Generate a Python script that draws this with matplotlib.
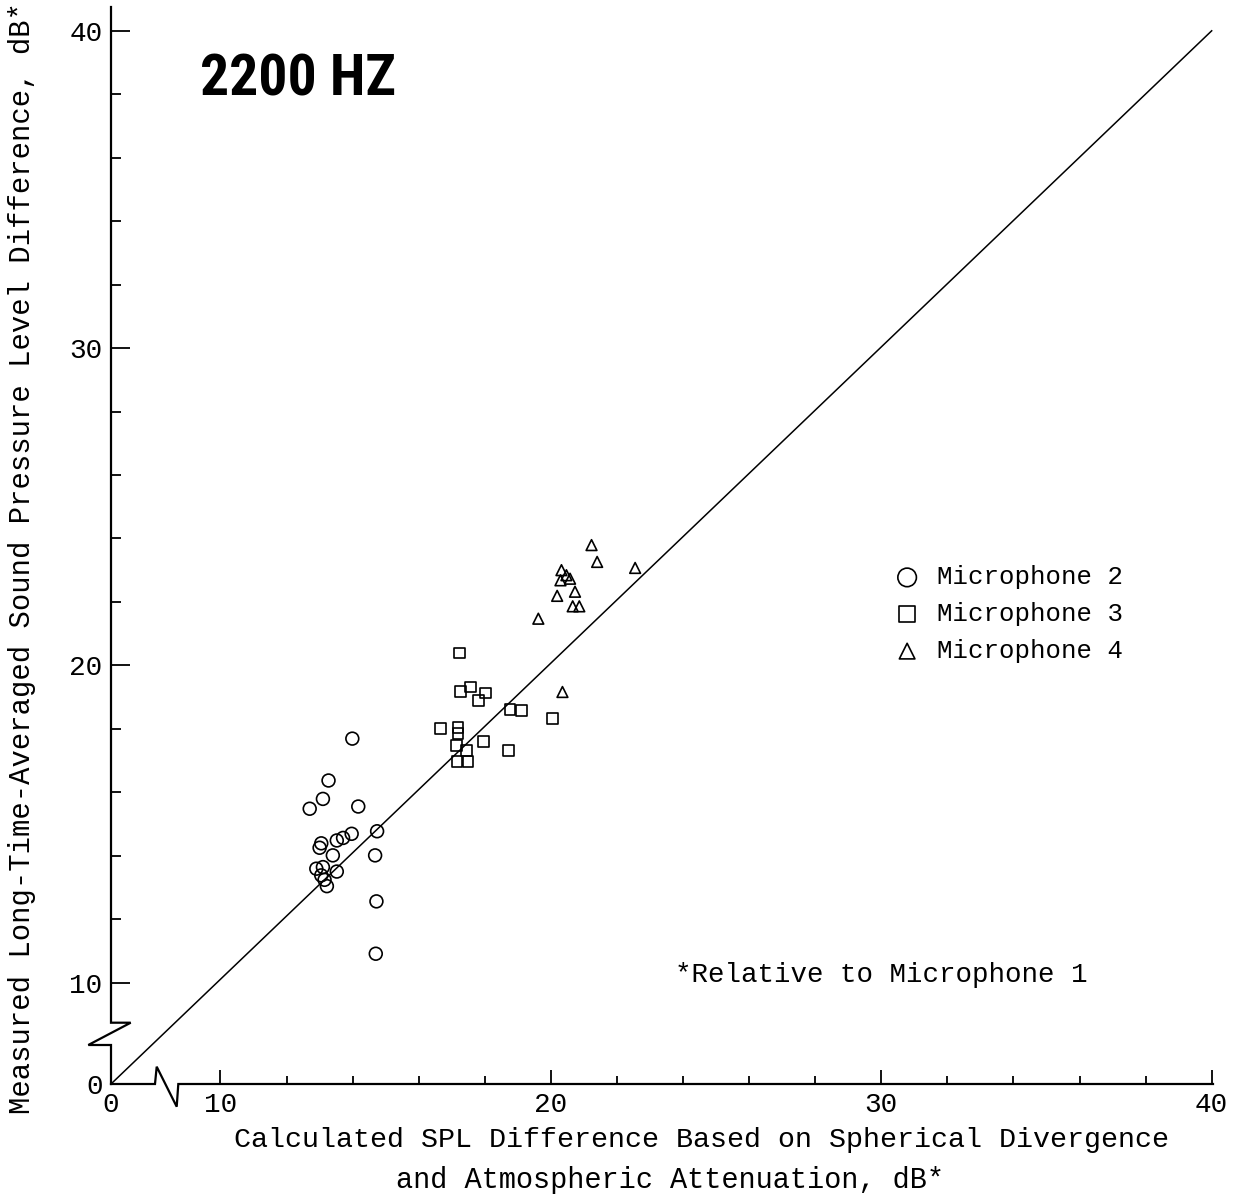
import numpy as np
import matplotlib
matplotlib.use("Agg")
import matplotlib.pyplot as plt

plt.rcParams['font.family'] = ['Liberation Mono', 'DejaVu Sans Mono']

# ---- data (dB, relative to microphone 1) ----
mic2_calc = [13.99, 13.27, 13.10, 12.70, 14.17, 14.74, 13.05, 13.00, 13.52, 13.71, 13.97,
             13.40, 14.68, 12.90, 13.10, 13.52, 13.05, 13.15, 13.22, 14.72, 14.70]
mic2_meas = [17.69, 16.37, 15.79, 15.48, 15.55, 14.77, 14.39, 14.25, 14.48, 14.56, 14.69,
             14.01, 14.01, 13.59, 13.64, 13.50, 13.38, 13.24, 13.04, 12.56, 10.91]

mic3_calc = [17.24, 17.26, 17.56, 18.03, 17.80, 18.76, 19.11, 20.05, 16.66, 17.19, 17.19,
             17.14, 17.44, 17.95, 18.71, 17.16, 17.49]
mic3_meas = [20.39, 19.18, 19.32, 19.13, 18.90, 18.60, 18.58, 18.32, 18.00, 18.05, 17.84,
             17.48, 17.32, 17.60, 17.32, 16.98, 16.98]

mic4_calc = [21.23, 21.40, 22.55, 20.32, 20.47, 20.58, 20.29, 20.19, 20.73, 20.66, 20.86,
             19.62, 20.35]
mic4_meas = [23.79, 23.26, 23.07, 23.00, 22.84, 22.73, 22.68, 22.19, 22.32, 21.86, 21.86,
             21.47, 19.16]

line_ends = [0, 40]
x_ticks = [0, 10, 20, 30, 40]
y_ticks = [0, 10, 20, 30, 40]
minor_ticks = list(range(12, 40, 2))
labels = ['Microphone 2', 'Microphone 3', 'Microphone 4']

# broken axes: 0..10 squeezed
KX = 0.3314
KY = 0.3196


def make_scale(k):
    def fwd(v):
        v = np.asarray(v, dtype=float)
        return np.where(v >= 10, v, 10 - (10 - v) * k)

    def inv(u):
        u = np.asarray(u, dtype=float)
        return np.where(u >= 10, u, 10 - (10 - u) / k)
    return fwd, inv


W, H = 1237, 1197
fig = plt.figure(figsize=(W / 100, H / 100), dpi=100)
ox, oy = 111, 1084
aw, ah = 1102, 1077
ax = fig.add_axes([ox / W, 1 - oy / H, aw / W, ah / H])
ax.set_xscale('function', functions=make_scale(KX))
ax.set_yscale('function', functions=make_scale(KY))
ax.set_xlim(0, 40.04)
ax.set_ylim(0, 40.75)

for s in ax.spines.values():
    s.set_visible(False)

# axis lines with break marks (pixel offsets from origin)
bx = np.array([0, 44, 45.7, 65.7, 67.3, aw])
by = np.array([0, 0, 17.3, -22.7, 0, 0])
ax.plot(bx / aw, by / ah, transform=ax.transAxes, color='k', lw=1.6, clip_on=False,
        solid_joinstyle='miter')
lx = np.array([0, 0, -22.7, 19.7, 0, 0])
ly = np.array([0, 39, 39, 61.3, 61.3, ah])
ax.plot(lx / aw, ly / ah, transform=ax.transAxes, color='k', lw=1.6, clip_on=False,
        solid_joinstyle='miter')

ax.plot(line_ends, line_ends, color='k', lw=1.1)

mk = dict(facecolors='none', edgecolors='k', linewidths=1.2, zorder=3)
h2 = ax.scatter(mic2_calc, mic2_meas, marker='o', s=85, **mk)
h3 = ax.scatter(mic3_calc, mic3_meas, marker='s', s=60, **mk)
h4 = ax.scatter(mic4_calc, mic4_meas, marker='^', s=60, **mk)

ax.set_xticks(x_ticks)
ax.set_yticks(y_ticks)
ax.set_xticks(minor_ticks, minor=True)
ax.set_yticks(minor_ticks, minor=True)
ax.set_xticklabels([str(t) for t in x_ticks])
ax.set_yticklabels([str(t) for t in y_ticks])
ax.tick_params(axis='x', which='major', direction='in', length=10, width=1.3, pad=6,
               labelsize=20)
ax.tick_params(axis='x', which='minor', direction='in', length=6, width=1.3)
ax.tick_params(axis='y', which='major', direction='in', length=14, width=1.3, pad=6,
               labelsize=20)
ax.tick_params(axis='y', which='minor', direction='in', length=7.5, width=1.3)
ax.xaxis.get_major_ticks()[0].tick1line.set_visible(False)
ax.yaxis.get_major_ticks()[0].tick1line.set_visible(False)

fig.text(702 / W, 1 - 1140 / H, 'Calculated SPL Difference Based on Spherical Divergence',
         ha='center', va='center', fontsize=20.4)
fig.text(670 / W, 1 - 1180 / H, 'and Atmospheric Attenuation, dB*',
         ha='center', va='center', fontsize=20.6)
fig.text(22 / W, 1 - 558 / H,
         'Measured Long-Time-Averaged Sound Pressure Level Difference, dB*',
         ha='center', va='center', rotation=90, fontsize=20.8)

fig.text(200 / W, 1 - 95 / H, '2200 HZ', ha='left', va='baseline', fontsize=41.5,
         fontweight='bold', family=['Roboto Condensed', 'Liberation Sans Narrow', 'DejaVu Sans'],
         fontstretch='condensed')

fig.text(675 / W, 1 - 975 / H, '*Relative to Microphone 1', ha='left', va='center',
         fontsize=19.8)

ax.legend([h2, h3, h4], labels, loc='center left', bbox_to_anchor=(884 / W, 1 - 614 / H),
          bbox_transform=fig.transFigure, frameon=False, fontsize=18.5, handlelength=0.8,
          handletextpad=0.75, labelspacing=0.5, borderpad=0, markerscale=1.45)

fig.savefig('out.png', dpi=100)
